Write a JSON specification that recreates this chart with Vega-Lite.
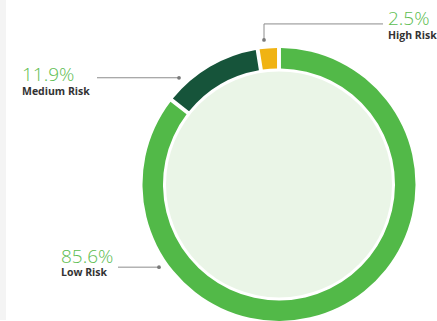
{
  "$schema": "https://vega.github.io/schema/vega-lite/v6.json",
  "width": 437,
  "height": 321,
  "autosize": {"type": "fit", "contains": "padding"},
  "padding": 0,
  "background": "#ffffff",
  "config": {"view": {"stroke": null}, "axis": {"disable": true}},
  "data": {
    "values": [
      {"risk": "Low Risk", "share": 0.856, "ord": 1},
      {"risk": "Medium Risk", "share": 0.119, "ord": 2},
      {"risk": "High Risk", "share": 0.025, "ord": 3}
    ]
  },
  "layer": [
    {
      "transform": [{"filter": "datum.ord === 1"}],
      "mark": {"type": "rect", "color": "#f4f4f4"},
      "encoding": {
        "x": {"datum": -279, "type": "quantitative", "scale": {"domain": [-279, 158], "nice": false, "zero": false}, "axis": null},
        "x2": {"datum": -273},
        "y": {"datum": -185, "type": "quantitative", "scale": {"domain": [-185, 136], "nice": false, "zero": false, "reverse": true}, "axis": null},
        "y2": {"datum": 136}
      }
    },
    {
      "mark": {"type": "arc", "outerRadius": 136.5, "innerRadius": 116, "padAngle": 0.022},
      "encoding": {
        "theta": {"field": "share", "type": "quantitative", "stack": true},
        "order": {"field": "ord", "type": "quantitative"},
        "color": {"field": "risk", "type": "nominal", "legend": null,
          "scale": {"domain": ["Low Risk", "Medium Risk", "High Risk"], "range": ["#52b948", "#16543a", "#f0b313"]}},
        "x": {"datum": 0, "type": "quantitative"},
        "y": {"datum": 0, "type": "quantitative"}
      }
    },
    {
      "transform": [{"filter": "datum.ord === 1"}],
      "mark": {"type": "point", "shape": "circle", "filled": true, "size": 51076, "color": "#eaf5e7", "opacity": 1, "strokeWidth": 0},
      "encoding": {
        "x": {"datum": 0, "type": "quantitative"},
        "y": {"datum": 0, "type": "quantitative"}
      }
    },
    {
      "transform": [{"filter": "datum.risk === 'High Risk'"}],
      "layer": [
        {"mark": {"type": "rule", "color": "#8c8c8c", "strokeWidth": 1},
         "encoding": {"x": {"datum": -15, "type": "quantitative"}, "x2": {"datum": 104}, "y": {"datum": -161, "type": "quantitative"}, "y2": {"datum": -161}}},
        {"mark": {"type": "rule", "color": "#8c8c8c", "strokeWidth": 1},
         "encoding": {"x": {"datum": -15, "type": "quantitative"}, "x2": {"datum": -15}, "y": {"datum": -161, "type": "quantitative"}, "y2": {"datum": -145}}},
        {"mark": {"type": "point", "shape": "circle", "filled": true, "size": 14, "color": "#7a7a7a", "opacity": 1},
         "encoding": {"x": {"datum": -15, "type": "quantitative"}, "y": {"datum": -145, "type": "quantitative"}}},
        {"mark": {"type": "text", "align": "left", "baseline": "alphabetic", "font": "Open Sans", "fontWeight": 300, "fontSize": 19, "color": "#5cbd50"},
         "encoding": {"x": {"datum": 109, "type": "quantitative"}, "y": {"datum": -160, "type": "quantitative"}, "text": {"field": "share", "format": ".1%"}}},
        {"mark": {"type": "text", "align": "left", "baseline": "alphabetic", "font": "Open Sans", "fontWeight": "bold", "fontSize": 10.5, "color": "#333333"},
         "encoding": {"x": {"datum": 109, "type": "quantitative"}, "y": {"datum": -146, "type": "quantitative"}, "text": {"field": "risk"}}}
      ]
    },
    {
      "transform": [{"filter": "datum.risk === 'Medium Risk'"}],
      "layer": [
        {"mark": {"type": "rule", "color": "#8c8c8c", "strokeWidth": 1},
         "encoding": {"x": {"datum": -182, "type": "quantitative"}, "x2": {"datum": -100}, "y": {"datum": -107, "type": "quantitative"}, "y2": {"datum": -107}}},
        {"mark": {"type": "point", "shape": "circle", "filled": true, "size": 14, "color": "#7a7a7a", "opacity": 1},
         "encoding": {"x": {"datum": -100, "type": "quantitative"}, "y": {"datum": -107, "type": "quantitative"}}},
        {"mark": {"type": "text", "align": "left", "baseline": "alphabetic", "font": "Open Sans", "fontWeight": 300, "fontSize": 19, "color": "#5cbd50"},
         "encoding": {"x": {"datum": -257, "type": "quantitative"}, "y": {"datum": -104, "type": "quantitative"}, "text": {"field": "share", "format": ".1%"}}},
        {"mark": {"type": "text", "align": "left", "baseline": "alphabetic", "font": "Open Sans", "fontWeight": "bold", "fontSize": 10.5, "color": "#333333"},
         "encoding": {"x": {"datum": -257, "type": "quantitative"}, "y": {"datum": -90, "type": "quantitative"}, "text": {"field": "risk"}}}
      ]
    },
    {
      "transform": [{"filter": "datum.risk === 'Low Risk'"}],
      "layer": [
        {"mark": {"type": "rule", "color": "#8c8c8c", "strokeWidth": 1},
         "encoding": {"x": {"datum": -161, "type": "quantitative"}, "x2": {"datum": -120}, "y": {"datum": 83, "type": "quantitative"}, "y2": {"datum": 83}}},
        {"mark": {"type": "point", "shape": "circle", "filled": true, "size": 14, "color": "#7a7a7a", "opacity": 1},
         "encoding": {"x": {"datum": -120, "type": "quantitative"}, "y": {"datum": 83, "type": "quantitative"}}},
        {"mark": {"type": "text", "align": "left", "baseline": "alphabetic", "font": "Open Sans", "fontWeight": 300, "fontSize": 19, "color": "#5cbd50"},
         "encoding": {"x": {"datum": -218, "type": "quantitative"}, "y": {"datum": 79, "type": "quantitative"}, "text": {"field": "share", "format": ".1%"}}},
        {"mark": {"type": "text", "align": "left", "baseline": "alphabetic", "font": "Open Sans", "fontWeight": "bold", "fontSize": 10.5, "color": "#333333"},
         "encoding": {"x": {"datum": -218, "type": "quantitative"}, "y": {"datum": 92, "type": "quantitative"}, "text": {"field": "risk"}}}
      ]
    }
  ]
}
